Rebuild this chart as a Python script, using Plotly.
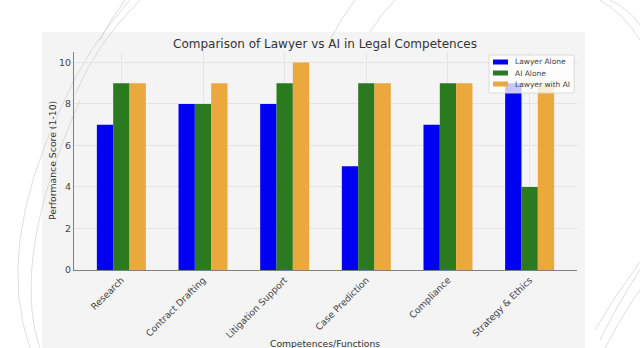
import plotly.graph_objects as go

categories = ["Research", "Contract Drafting", "Litigation Support",
              "Case Prediction", "Compliance", "Strategy & Ethics"]
lawyer_alone = [7, 8, 8, 5, 7, 9]
ai_alone = [9, 8, 9, 9, 9, 4]
lawyer_with_ai = [9, 9, 10, 9, 9, 9]
series_names = ["Lawyer Alone", "AI Alone", "Lawyer with AI"]
series_colors = ["#0000f2", "#2b7a1f", "#eba83c"]

W, H = 640, 348
L, R, T, B = 74, 577, 52, 270  # plot area in pixels


def px(x):
    return (x - L) / (R - L)


def py(y):
    return (B - y) / (B - T)


fig = go.Figure()
for name, vals, col in zip(series_names, [lawyer_alone, ai_alone, lawyer_with_ai], series_colors):
    fig.add_bar(x=categories, y=vals, name=name, marker_color=col,
                marker_line_width=0, showlegend=False)

shapes = []
# card background
shapes.append(dict(type="rect", xref="paper", yref="paper", layer="below",
                   x0=px(42), x1=px(585), y0=py(350), y1=py(32),
                   fillcolor="#f4f4f4", line_width=0))


def curve(x0, y0, cx, cy, x1, y1):
    return dict(type="path", xref="paper", yref="paper", layer="below",
                path=f"M {px(x0)},{py(y0)} Q {px(cx)},{py(cy)} {px(x1)},{py(y1)}",
                line=dict(color="rgba(195,195,195,0.7)", width=0.8))


# decorative faint lines
shapes += [
    curve(30, 348, -5, 250, 60, 110),
    curve(40, 348, 10, 260, 80, 100),
    curve(60, 110, 85, 50, 130, 0),
    curve(75, 95, 95, 45, 140, 0),
    curve(100, 40, 110, 20, 125, 0),
    curve(330, 40, 340, 20, 355, 0),
    curve(370, 32, 380, 15, 395, 0),
    curve(600, 0, 625, 15, 640, 40),
    curve(610, 0, 630, 10, 640, 25),
    curve(600, 340, 620, 300, 640, 270),
    curve(595, 330, 615, 295, 640, 262),
    curve(605, 348, 625, 310, 640, 290),
]

# manual compact legend (matplotlib style)
shapes.append(dict(type="rect", xref="paper", yref="paper", layer="above",
                   x0=px(489), x1=px(574), y0=py(93), y1=py(55),
                   fillcolor="rgba(255,255,255,0.78)",
                   line=dict(color="rgba(215,215,215,0.9)", width=1)))
legend_annotations = []
for i, (name, col) in enumerate(zip(series_names, series_colors)):
    yc = 62 + i * 11
    shapes.append(dict(type="rect", xref="paper", yref="paper", layer="above",
                       x0=px(493), x1=px(508), y0=py(yc + 2.5), y1=py(yc - 2.5),
                       fillcolor=col, line_width=0))
    legend_annotations.append(dict(text=name, xref="paper", yref="paper",
                                   x=px(513), y=py(yc), xanchor="left", yanchor="middle",
                                   showarrow=False, font=dict(size=7.5, color="#444")))

fig.update_layout(
    width=W, height=H,
    margin=dict(l=L, r=W - R, t=T, b=H - B),
    paper_bgcolor="white",
    plot_bgcolor="#fafafa",
    font=dict(family="DejaVu Sans", color="#444"),
    barmode="group", bargap=0.4, bargroupgap=0,
    showlegend=False,
    title=dict(text="Comparison of Lawyer vs AI in Legal Competences",
               x=325 / W, xanchor="center", y=1 - 44 / H, yanchor="middle",
               yref="container", font=dict(size=12, color="#333")),
    shapes=shapes,
    xaxis=dict(showgrid=True, gridcolor="#e4e4e4", gridwidth=1,
               tickangle=-45, tickfont=dict(size=9.2, color="#444"),
               showline=True, linecolor="#808080", linewidth=1.2,
               range=[-0.58, 5.58], automargin=False, ticks=""),
    yaxis=dict(range=[0, 10.5], dtick=2, showgrid=True, gridcolor="#e4e4e4",
               tickfont=dict(size=9.5, color="#444"), showline=True, linecolor="#808080",
               linewidth=1.2, zeroline=False, automargin=False, ticks=""),
    annotations=[
        dict(text="Competences/Functions", xref="paper", yref="paper",
             x=px(325), y=py(343), xanchor="center", yanchor="middle",
             showarrow=False, font=dict(size=9.2, color="#333")),
        dict(text="Performance Score (1-10)", xref="paper", yref="paper",
             x=px(52), y=py(161), xanchor="center", yanchor="middle",
             textangle=-90, showarrow=False, font=dict(size=9.3, color="#333")),
    ] + legend_annotations,
)

fig.write_html("out.html")
